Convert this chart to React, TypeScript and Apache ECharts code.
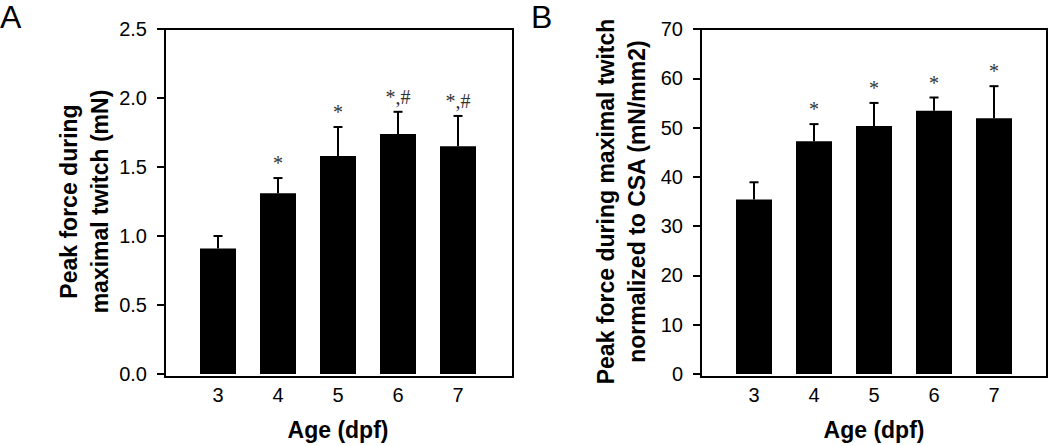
import React, { useEffect, useRef } from "react";
import * as echarts from "echarts";

const ages = ["3", "4", "5", "6", "7"];
const forceMean = [0.91, 1.31, 1.58, 1.74, 1.65];
const forceErrTop = [1.0, 1.42, 1.79, 1.9, 1.87];
const forceMarks = ["", "*", "*", "*,#", "*,#"];
const normMean = [35.4, 47.2, 50.3, 53.4, 51.9];
const normErrTop = [38.9, 50.7, 55.0, 56.1, 58.4];
const normMarks = ["", "*", "*", "*", "*"];
const forceTicks = { min: 0, max: 2.5, interval: 0.5 };
const normTicks = { min: 0, max: 70, interval: 10 };

const SANS = "'Liberation Sans', Arial, sans-serif";
const SERIF = "'Liberation Serif', 'Times New Roman', serif";

function errSeries(idx: number, tops: number[], means: number[], marks: string[]) {
  return {
    type: "custom",
    xAxisIndex: idx,
    yAxisIndex: idx,
    data: means.map((m, i) => [i, m, tops[i], marks[i]]),
    renderItem: (params: any, api: any) => {
      const i = api.value(0);
      const base = api.coord([i, api.value(1)]);
      const top = api.coord([i, api.value(2)]);
      const mark = marks[params.dataIndex];
      const children: any[] = [
        {
          type: "line",
          shape: { x1: base[0], y1: base[1], x2: top[0], y2: top[1] },
          style: { stroke: "#000", lineWidth: 2 },
        },
        {
          type: "line",
          shape: { x1: top[0] - 4.5, y1: top[1], x2: top[0] + 4.5, y2: top[1] },
          style: { stroke: "#000", lineWidth: 2 },
        },
      ];
      if (mark) {
        children.push({
          type: "text",
          x: top[0],
          y: top[1] - 15,
          style: {
            text: mark,
            fill: "#333",
            font: `20px ${SERIF}`,
            align: "center",
            verticalAlign: "middle",
          },
        });
      }
      return { type: "group", children };
    },
    z: 5,
  };
}

export default function App() {
  const ref = useRef<HTMLDivElement>(null);
  useEffect(() => {
    if (!ref.current) return;
    const chart = echarts.init(ref.current, undefined, { renderer: "svg" });
    const xAxisBase = (gridIndex: number) => ({
      type: "category",
      gridIndex,
      data: ages,
      boundaryGap: true,
      axisLine: { show: false },
      axisTick: { show: false },
      axisLabel: { color: "#000", fontSize: 20, fontFamily: SANS, margin: 11 },
      name: "Age (dpf)",
      nameLocation: "middle",
      nameGap: 44,
      nameTextStyle: { color: "#000", fontSize: 23, fontWeight: "bold", fontFamily: SANS },
    });
    const yAxisBase = (gridIndex: number, ticks: any, name: string, fmt: (v: number) => string, gap: number) => ({
      type: "value",
      gridIndex,
      min: ticks.min,
      max: ticks.max,
      interval: ticks.interval,
      offset: 23,
      axisLine: { show: false },
      axisTick: { show: true, length: 8, inside: false, lineStyle: { color: "#000", width: 2 } },
      axisLabel: { color: "#000", fontSize: 20, fontFamily: SANS, margin: 18, formatter: fmt },
      splitLine: { show: false },
      name,
      nameLocation: "middle",
      nameGap: gap,
      nameRotate: 90,
      nameTextStyle: { color: "#000", fontSize: 23, fontWeight: "bold", fontFamily: SANS, lineHeight: 31, align: "center" },
    });
    chart.setOption({
      animation: false,
      backgroundColor: "#fff",
      grid: [
        { left: 188, width: 300, top: 29, height: 348 },
        { left: 724, width: 300, top: 29, height: 348 },
      ],
      xAxis: [xAxisBase(0), xAxisBase(1)],
      yAxis: [
        yAxisBase(0, forceTicks, "Peak force during\nmaximal twitch (mN)", (v) => v.toFixed(1), 50),
        yAxisBase(1, normTicks, "Peak force during maximal twitch\nnormalized to CSA (mN/mm2)", (v) => String(v), 49),
      ],
      series: [
        { type: "bar", xAxisIndex: 0, yAxisIndex: 0, data: forceMean, barWidth: 36, itemStyle: { color: "#000" } },
        errSeries(0, forceErrTop, forceMean, forceMarks),
        { type: "bar", xAxisIndex: 1, yAxisIndex: 1, data: normMean, barWidth: 36, itemStyle: { color: "#000" } },
        errSeries(1, normErrTop, normMean, normMarks),
      ],
      graphic: [
        { type: "rect", shape: { x: 165, y: 29, width: 348, height: 348 }, style: { fill: "none", stroke: "#000", lineWidth: 2 }, z: 10 },
        { type: "rect", shape: { x: 701, y: 29, width: 346, height: 348 }, style: { fill: "none", stroke: "#000", lineWidth: 2 }, z: 10 },
        { type: "text", x: 0, y: 17, style: { text: "A", font: `32px ${SANS}`, fill: "#000", verticalAlign: "middle" } },
        { type: "text", x: 531, y: 17, style: { text: "B", font: `32px ${SANS}`, fill: "#000", verticalAlign: "middle" } },
      ],
    });
    return () => chart.dispose();
  }, []);
  return <div ref={ref} style={{ position: "absolute", left: 0, top: 0, width: 1050, height: 446 }} />;
}
